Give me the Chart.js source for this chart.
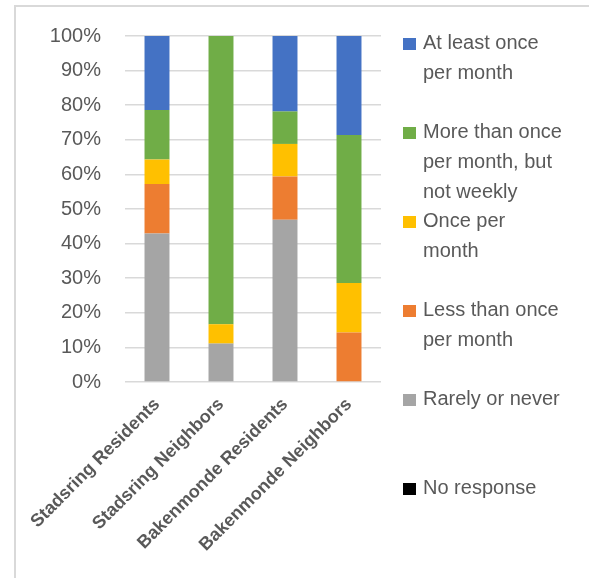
<!DOCTYPE html>
<html>
<head>
<meta charset="utf-8">
<script src="https://cdn.jsdelivr.net/npm/chart.js@4.4.0/dist/chart.umd.min.js"></script>
<style>
  html, body { margin: 0; padding: 0; background: #fff; }
  #wrap { position: relative; width: 589px; height: 578px; overflow: hidden; }
  #frame { position: absolute; left: 14px; top: 5px; width: 600px; height: 600px;
           border-left: 2px solid #d9d9d9; border-top: 2px solid #d9d9d9; }
  #chart { position: absolute; left: 0; top: 0; }
  #legend { position: absolute; left: 403px; top: 27px; margin: 0; padding: 0; list-style: none;
            font: 20px 'Liberation Sans', Arial, sans-serif; color: #595959; }
  #legend li { position: relative; height: 89px; padding-left: 20px; line-height: 30px; white-space: nowrap; }
  #legend .box { position: absolute; left: 0; top: 11px; width: 13px; height: 12px; }
</style>
</head>
<body>
<div id="wrap">
  <div id="frame"></div>
  <canvas id="chart" width="589" height="578"></canvas>
  <ul id="legend"></ul>
</div>
<script>
// Groupes interroges
const categories = ['Stadsring Residents', 'Stadsring Neighbors', 'Bakenmonde Residents', 'Bakenmonde Neighbors'];

// Part des reponses (%) par groupe, du bas vers le haut de la pile
const noResponse      = [0, 0, 0, 0];
const rarelyOrNever   = [42.9, 11.1, 46.9, 0];
const lessThanMonthly = [14.3, 0, 12.5, 14.3];
const oncePerMonth    = [7.1, 5.6, 9.4, 14.3];
const moreThanMonthly = [14.3, 83.3, 9.4, 42.8];
const atLeastMonthly  = [21.4, 0, 21.8, 28.6];

// Libelles de la legende (deja coupes en lignes)
const seriesNames = [
    ['No response'],
    ['Rarely or never'],
    ['Less than once', 'per month'],
    ['Once per', 'month'],
    ['More than once', 'per month, but', 'not weekly'],
    ['At least once', 'per month']
];
const seriesColors = ['#000000', '#A5A5A5', '#ED7D31', '#FFC000', '#70AD47', '#4472C4'];
const seriesValues = [noResponse, rarelyOrNever, lessThanMonthly, oncePerMonth, moreThanMonthly, atLeastMonthly];

// Graduations de l'axe vertical
const yTicks = [0, 10, 20, 30, 40, 50, 60, 70, 80, 90, 100];

const textColor = '#595959';
const gridColor = '#d9d9d9';

// Legende HTML construite a partir des jeux de donnees (ordre inverse de la pile)
const htmlLegend = {
    id: 'htmlLegend',
    afterUpdate(chart) {
        const ul = document.getElementById('legend');
        ul.innerHTML = '';
        chart.data.datasets.slice().reverse().forEach(ds => {
            const li = document.createElement('li');
            const box = document.createElement('span');
            box.className = 'box';
            box.style.background = ds.backgroundColor;
            li.appendChild(box);
            ds.label.forEach((line, i) => {
                if (i > 0) li.appendChild(document.createElement('br'));
                li.appendChild(document.createTextNode(line));
            });
            ul.appendChild(li);
        });
    }
};

new Chart(document.getElementById('chart'), {
    type: 'bar',
    data: {
        labels: categories,
        datasets: seriesValues.map((values, i) => ({
            label: seriesNames[i],
            data: values,
            backgroundColor: seriesColors[i],
            borderWidth: 0,
            categoryPercentage: 1,
            barPercentage: 0.39
        }))
    },
    options: {
        responsive: false,
        animation: false,
        layout: { padding: { top: 35, right: 208, left: 0, bottom: 0 } },
        plugins: {
            legend: { display: false },
            tooltip: { enabled: false }
        },
        scales: {
            x: {
                stacked: true,
                grid: { display: false },
                border: { display: false },
                ticks: {
                    color: textColor,
                    font: { family: "'Liberation Sans', Arial, sans-serif", size: 18, weight: 'bold' },
                    minRotation: 45,
                    maxRotation: 45,
                    padding: 4
                },
                afterFit(scale) { scale.height = 196; }
            },
            y: {
                stacked: true,
                min: 0,
                max: 100,
                afterBuildTicks(scale) { scale.ticks = yTicks.map(v => ({ value: v })); },
                grid: { color: gridColor, lineWidth: 1.5, drawTicks: false },
                border: { display: false },
                ticks: {
                    color: textColor,
                    font: { family: "'Liberation Sans', Arial, sans-serif", size: 20 },
                    padding: 24,
                    callback: v => v + '%'
                },
                afterFit(scale) { scale.width = 125; }
            }
        }
    },
    plugins: [htmlLegend]
});
</script>
</body>
</html>
